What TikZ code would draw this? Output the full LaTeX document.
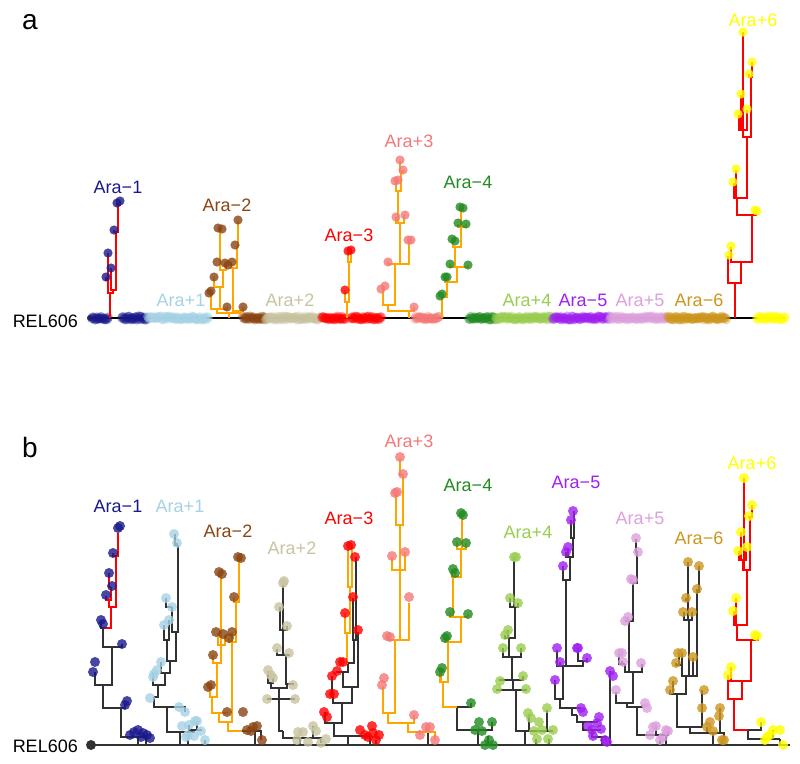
\documentclass[tikz,border=0pt]{standalone}
\usepackage{fontspec}
\setmainfont{Liberation Sans}
\usepackage{xcolor}
\usepackage{tikz}
\definecolor{aram1}{RGB}{25,25,140}
\definecolor{arap1}{RGB}{166,210,230}
\definecolor{aram2}{RGB}{139,69,19}
\definecolor{arap2}{RGB}{200,196,160}
\definecolor{aram3}{RGB}{255,0,0}
\definecolor{arap3}{RGB}{245,120,120}
\definecolor{aram4}{RGB}{34,139,34}
\definecolor{arap4}{RGB}{154,205,80}
\definecolor{aram5}{RGB}{160,32,240}
\definecolor{arap5}{RGB}{221,160,221}
\definecolor{aram6}{RGB}{205,150,30}
\definecolor{arap6}{RGB}{255,255,0}
\definecolor{brorange}{RGB}{255,165,0}
\definecolor{brred}{RGB}{255,0,0}
\definecolor{basegrey}{RGB}{50,50,50}
\newcommand{\branches}[2]{\foreach \pa/\pb/\ca/\cb in {#2} \draw[#1] (\pa,\pb) -| (\ca,\cb);}
\newcommand{\tips}[2]{\foreach \px/\py in {#2} \fill[#1,opacity=.8] (\px,\py) circle (\tipr);}
\newcommand{\blob}[3]{\foreach \px in {#2,...,#3} \fill[#1,opacity=.4] (\px,{318+1.6*rand}) circle (5);}
\newcommand{\tipr}{4.6}

\begin{document}
\begin{tikzpicture}[x=1pt,y=-1pt,
    lab/.style={font=\fontsize{18}{18}\selectfont,inner sep=0pt},
    panel/.style={font=\fontsize{28}{28}\selectfont,inner sep=0pt},
    bro/.style={brorange,line width=1.4pt},
    brr/.style={brred,line width=1.4pt},
    bbk/.style={basegrey,line width=1.7pt},
    bbo/.style={brorange,line width=2pt},
    bbr/.style={brred,line width=2.6pt}]
  \useasboundingbox[fill=white] (0,0) rectangle (800,763);
  \pgfmathsetseed{7}
  % ---------- panel a ----------
  \node[panel] (pa) at (30,22) {a};
  \node[lab,anchor=east] (rela) at (78,321) {REL606};
  \draw[black,line width=1.4pt] (90,318) -- (785,318);
  \fill[basegrey] (90,318) circle (3);
  \blob{aram1}{92}{108} \blob{aram1}{122}{147}
  \blob{arap1}{148}{208} \blob{aram2}{243}{265}
  \blob{arap2}{266}{321} \blob{aram3}{322}{345}
  \blob{aram3}{351}{381} \blob{arap3}{415}{439}
  \blob{aram4}{469}{495} \blob{arap4}{496}{552}
  \blob{aram5}{553}{609} \blob{arap5}{610}{667}
  \blob{aram6}{668}{726} \blob{arap6}{757}{785}
  % Ara-1
  \branches{brr}{110/318/110/293, 110/293/108/253, 110/293/113/290, 113/290/111/268,
    113/290/116/232, 116/232/114/230, 116/232/118/205, 118/205/117/203, 118/205/120/201, 108/280/106/277}
  \tips{aram1}{117/203, 120/201, 114/230, 108/253, 111/268, 106/277}
  % Ara-2
  \branches{bro}{229/318/229/313, 229/313/217/309, 229/313/241/311, 241/311/243/307,
    241/311/233/268, 233/268/231/262, 233/268/237/246, 237/246/238/221, 217/309/227/307,
    217/309/211/292, 217/309/220/287, 220/287/214/277, 220/287/223/270, 223/270/220/229,
    223/270/226/263}
  \tips{aram2}{218/228, 222/229, 238/220, 235/245, 217/262, 225/263, 232/262, 228/265,
    214/277, 209/293, 211/291, 227/307, 243/307}
  % Ara-3
  \branches{bro}{347/318/347/302, 347/302/345/290, 347/302/349/262, 349/262/348/252, 349/262/351/251}
  \tips{aram3}{348/251, 351/250, 345/290}
  % Ara+3
  \branches{bro}{409/318/409/311, 409/311/388/305, 409/311/414/307, 388/305/383/288,
    388/305/395/264, 395/264/388/262, 395/264/409/241, 395/264/400/223, 400/223/396/217,
    400/223/404/215, 400/223/398/191, 398/191/396/181, 398/191/401/172, 401/172/403/170,
    401/172/400/161}
  \tips{arap3}{381/289, 385/286, 414/307, 388/262, 408/240, 411/240, 396/217, 405/215,
    395/181, 398/180, 403/170, 400/160}
  % Ara-4
  \branches{bro}{442/318/442/297, 442/297/447/282, 447/282/445/277, 447/282/457/267,
    457/267/450/264, 457/267/468/265, 457/267/455/247, 455/247/453/240, 455/247/461/227,
    461/227/458/224, 461/227/466/224, 461/227/461/210, 461/210/460/208, 461/210/463/208}
  \tips{aram4}{440/296, 442/294, 445/277, 447/277, 450/264, 468/265, 452/239, 455/241,
    458/223, 466/224, 460/207, 463/208}
  % Ara+6
  \branches{brr}{735/318/735/283, 735/283/728/256, 735/283/741/262, 741/262/731/247,
    741/262/752/215, 752/215/756/211, 752/215/737/198, 737/198/734/183, 737/198/736/170,
    737/198/747/137, 747/137/751/77, 751/77/749/74, 751/77/752/62, 747/137/743/130,
    743/130/739/115, 743/130/741/95, 743/130/747/110, 743/130/743/32}
  \tips{arap6}{729/255, 731/246, 755/210, 757/211, 733/182, 736/169, 749/74, 752/62,
    738/114, 741/94, 747/109, 743/32}
  % labels a
  \node[lab,text=aram1] (lam1) at (118,187) {Ara−1};
  \node[lab,text=arap1] (lap1) at (181,300) {Ara+1};
  \node[lab,text=aram2] (lam2) at (227,205) {Ara−2};
  \node[lab,text=arap2] (lap2) at (290,300) {Ara+2};
  \node[lab,text=aram3] (lam3) at (349,235) {Ara−3};
  \node[lab,text=arap3] (lap3) at (409,141) {Ara+3};
  \node[lab,text=aram4] (lam4) at (468,182) {Ara−4};
  \node[lab,text=arap4] (lap4) at (527,300) {Ara+4};
  \node[lab,text=aram5] (lam5) at (583,300) {Ara−5};
  \node[lab,text=arap5] (lap5) at (640,300) {Ara+5};
  \node[lab,text=aram6] (lam6) at (699,300) {Ara−6};
  \node[lab,text=arap6] (lap6) at (753,20) {Ara+6};
  % ---------- panel b ----------
  \renewcommand{\tipr}{5}
  \node[panel] (pb) at (30,447) {b};
  \node[lab,anchor=east] (relb) at (78,746) {REL606};
  \draw[basegrey,line width=1.7pt] (91,745) -- (790,745);
  \fill[basegrey] (91,745) circle (5);
  % Ara-1
  \branches{bbk}{138/745/138/737, 138/737/121/708, 138/737/147/735, 146/745/146/737,
    121/708/103/685, 121/708/125/704, 103/685/95/672, 103/685/112/647, 112/647/103/628,
    112/647/122/644, 103/628/101/621}
  \branches{bbr}{103/628/111/607, 111/607/116/556, 116/556/118/533, 116/556/113/553,
    111/607/109/600, 109/600/106/596, 109/600/111/587, 111/587/109/573}
  \tips{aram1}{118/528, 120/526, 113/553, 109/573, 112/586, 106/595, 101/620, 103/624,
    95/662, 93/672, 122/644, 125/705, 127/701, 130/735, 134/732, 138/730, 143/733,
    147/735, 150/738, 141/737}
  % Ara+1
  \branches{bbk}{180/745/180/732, 180/732/167/707, 180/732/194/730, 194/730/189/725,
    194/730/197/721, 194/730/201/731, 188/745/188/735, 205/745/205/740, 167/707/154/697,
    167/707/180/707, 180/707/185/712, 154/697/158/685, 158/685/153/672, 158/685/165/673,
    165/673/161/662, 165/673/170/661, 170/661/167/640, 167/640/164/625, 167/640/169/620,
    170/661/176/632, 176/632/172/607, 172/607/166/598, 176/632/178/545, 178/545/175/534,
    178/545/177/543}
  \tips{arap1}{174/534, 177/543, 166/598, 172/607, 169/620, 164/625, 161/662, 157/670,
    154/674, 153/677, 150/698, 179/707, 185/712, 182/726, 189/725, 195/721, 197/721,
    188/735, 194/736, 201/731, 205/740, 186/737}
  % Ara-2
  \branches{bbk}{255/745/255/731, 255/731/261/740, 255/731/242/731}
  \branches{bbo}{242/731/228/722, 228/722/219/713, 228/722/232/642, 232/642/229/638,
    232/642/236/602, 236/602/234/597, 236/602/239/560, 239/560/238/557, 239/560/241/558,
    219/713/227/712, 219/713/212/697, 212/697/210/686, 212/697/217/663, 217/663/213/655,
    217/663/221/645, 221/645/218/633, 221/645/225/635, 221/645/221/575, 232/642/232/632}
  \tips{aram2}{238/557, 241/558, 219/572, 222/574, 234/597, 216/632, 223/634, 232/632,
    229/638, 213/655, 211/685, 208/687, 227/712, 243/712, 247/730, 251/731, 253/727,
    257/726, 262/740}
  % Ara+2
  \branches{bbk}{300/745/300/738, 300/738/283/731, 300/738/316/738, 316/738/313/726,
    316/738/321/743, 283/731/279/699, 279/699/267/699, 279/699/295/699, 279/699/279/688,
    279/688/271/683, 271/683/268/671, 271/683/273/678, 279/688/287/684, 287/684/293/685,
    287/684/286/655, 286/655/277/649, 286/655/289/654, 286/655/283/630, 283/630/287/626,
    283/630/280/607, 283/630/283/585}
  \tips{arap2}{283/583, 284/581, 279/607, 287/626, 277/648, 289/653, 268/670, 271/675,
    273/678, 293/685, 267/699, 295/699, 298/732, 303/732, 313/726, 316/731, 308/742,
    321/743, 326/739, 297/740}
  % Ara-3
  \branches{bbk}{348/745/348/736, 348/736/334/723, 348/736/370/736, 370/745/370/736,
    376/745/376/740, 334/723/325/712, 334/723/342/703, 342/703/333/694, 333/694/332/676,
    342/703/352/687, 352/687/343/672, 352/687/358/632, 343/672/337/671, 343/672/348/663,
    348/663/354/640, 354/640/353/598, 354/640/356/557}
  \branches{bbo}{348/663/347/633, 347/633/345/613, 347/633/350/587, 350/587/348/547,
    350/587/352/546}
  \tips{aram3}{348/546, 351/545, 355/557, 353/597, 345/613, 358/630, 340/662, 343/662,
    337/671, 332/676, 330/694, 334/694, 324/712, 327/717, 360/730, 365/735, 372/726,
    373/733, 379/735, 376/740, 368/737}
  % Ara+3
  \branches{bbk}{428/745/428/732}
  \branches{bbo}{428/732/408/723, 428/732/435/740, 428/732/426/727, 428/732/420/735,
    408/723/414/715, 408/723/388/713, 388/713/383/686, 388/713/395/640, 395/640/388/636,
    395/640/409/603, 395/640/400/570, 400/570/392/557, 400/570/405/552, 400/570/400/525,
    400/525/396/493, 400/525/403/475, 403/475/400/458}
  \tips{arap3}{400/457, 403/474, 395/493, 397/492, 392/556, 405/552, 409/597, 387/636,
    390/637, 382/685, 384/678, 414/715, 426/727, 430/727, 420/735, 435/740}
  % Ara-4
  \branches{bbk}{478/745/478/730, 478/730/457/707, 478/730/492/722, 488/745/488/736,
    457/707/471/703}
  \branches{bbo}{457/707/443/682, 443/682/441/668, 443/682/440/672, 443/682/448/642,
    448/642/445/638, 448/642/461/617, 461/617/468/614, 461/617/450/612, 461/617/453/577,
    453/577/452/569, 453/577/455/573, 453/577/461/549, 461/549/457/542, 461/549/466/543,
    461/549/462/516, 462/516/461/513, 462/516/463/515}
  \tips{aram4}{461/513, 463/515, 457/542, 466/543, 453/569, 455/573, 450/612, 468/614,
    445/638, 447/636, 442/668, 440/672, 471/703, 479/722, 475/730, 482/731, 492/722,
    485/745, 489/740, 493/745}
  % Ara+4
  \branches{bbk}{525/745/525/731, 525/731/516/690, 525/731/538/731, 538/731/547/710,
    538/731/553/731, 536/745/536/739, 549/745/549/739, 525/731/529/714, 516/690/497/689,
    516/690/526/689, 516/690/513/680, 513/680/500/681, 513/680/523/676, 513/680/512/657,
    512/657/503/648, 512/657/521/648, 512/657/509/638, 509/638/505/635, 509/638/508/630,
    509/638/515/607, 515/607/510/598, 515/607/518/603, 515/607/514/557}
  \tips{arap4}{514/557, 516/557, 510/598, 518/603, 508/630, 505/635, 503/648, 521/648,
    500/681, 523/676, 526/689, 497/689, 528/713, 531/718, 539/722, 547/708, 534/731,
    542/730, 553/730, 548/739, 537/739}
  % Ara-5
  \branches{bbk}{602/745/602/737, 602/737/592/730, 602/737/606/741, 592/730/600/729,
    592/730/583/722, 583/722/597/723, 583/722/577/715, 577/715/572/708, 572/708/581/708,
    572/708/560/699, 560/699/555/680, 560/699/563/666, 563/666/560/662, 563/666/557/650,
    563/666/566/580, 563/666/583/661, 583/661/587/658, 583/661/578/648, 566/580/563/566,
    566/580/570/557, 570/557/568/548, 570/557/566/552, 570/557/573/538, 573/538/571/520,
    573/538/574/511, 610/745/610/671}
  \tips{aram5}{573/511, 571/520, 568/547, 566/552, 563/566, 557/648, 577/648, 578/648,
    587/658, 560/662, 555/680, 581/708, 583/712, 599/717, 597/723, 588/726, 592/730,
    601/729, 593/736, 605/740, 607/742, 610/671, 613/676}
  % Ara+5
  \branches{bbk}{666/745/666/735, 666/735/637/707, 666/735/656/726, 666/735/668/731,
    660/745/660/740, 637/707/642/705, 637/707/627/703, 627/703/616/692, 627/703/633/672,
    633/672/642/664, 633/672/625/664, 625/664/619/654, 625/664/622/661, 633/672/629/621,
    629/621/625/621, 629/621/628/617, 629/621/633/583, 633/583/631/580, 633/583/637/552,
    637/552/638/552, 637/552/636/539}
  \tips{arap5}{636/538, 638/552, 631/579, 633/580, 628/617, 625/621, 619/653, 622/653,
    623/662, 641/663, 616/690, 645/703, 647/708, 653/727, 656/726, 650/735, 660/740,
    666/730, 668/731, 663/737}
  % Ara-6
  \branches{bbk}{713/745/713/733, 713/733/690/727, 713/733/720/716, 720/716/720/708,
    713/733/724/740, 713/733/707/727, 722/745/722/740, 690/727/677/694, 690/727/702/690,
    677/694/670/690, 677/694/673/681, 677/694/686/676, 686/676/682/665, 682/665/676/663,
    682/665/679/653, 682/665/682/653, 686/676/693/658, 686/676/697/592, 697/592/697/589,
    697/592/699/566, 686/676/689/620, 689/620/684/612, 689/620/692/612, 689/620/688/562,
    688/600/686/598}
  \tips{aram6}{688/562, 699/566, 697/589, 686/598, 683/612, 692/612, 678/653, 682/653,
    676/663, 693/657, 673/681, 670/690, 704/690, 702/708, 720/708, 719/716, 710/722,
    707/727, 713/731, 724/740, 722/740}
  % Ara+6
  \branches{bbk}{780/745/780/739, 780/739/748/730, 780/739/773/730, 748/730/761/722}
  \branches{bbr}{748/730/734/699, 734/699/728/681, 734/699/742/681, 728/681/751/640,
    728/681/731/667, 728/681/728/675, 751/640/758/636, 751/640/737/625, 737/625/736/598,
    737/625/734/611, 737/625/747/570, 747/570/750/517, 750/517/752/505, 750/517/749/516,
    747/570/743/560, 743/560/739/551, 743/560/741/532, 743/560/746/548, 747/570/744/478}
  \tips{arap6}{744/478, 752/505, 749/516, 741/532, 738/551, 747/547, 736/598, 733/611,
    755/635, 757/636, 731/667, 728/675, 761/722, 773/730, 780/730, 770/735, 767/737,
    765/740, 783/745}
  % labels b
  \node[lab,text=aram1] (lbm1) at (118,506) {Ara−1};
  \node[lab,text=arap1] (lbp1) at (180,506) {Ara+1};
  \node[lab,text=aram2] (lbm2) at (228,531) {Ara−2};
  \node[lab,text=arap2] (lbp2) at (292,548) {Ara+2};
  \node[lab,text=aram3] (lbm3) at (349,518) {Ara−3};
  \node[lab,text=arap3] (lbp3) at (409,441) {Ara+3};
  \node[lab,text=aram4] (lbm4) at (468,485) {Ara−4};
  \node[lab,text=arap4] (lbp4) at (528,532) {Ara+4};
  \node[lab,text=aram5] (lbm5) at (576,482) {Ara−5};
  \node[lab,text=arap5] (lbp5) at (640,518) {Ara+5};
  \node[lab,text=aram6] (lbm6) at (699,538) {Ara−6};
  \node[lab,text=arap6] (lbp6) at (752,463) {Ara+6};
\end{tikzpicture}
\end{document}
